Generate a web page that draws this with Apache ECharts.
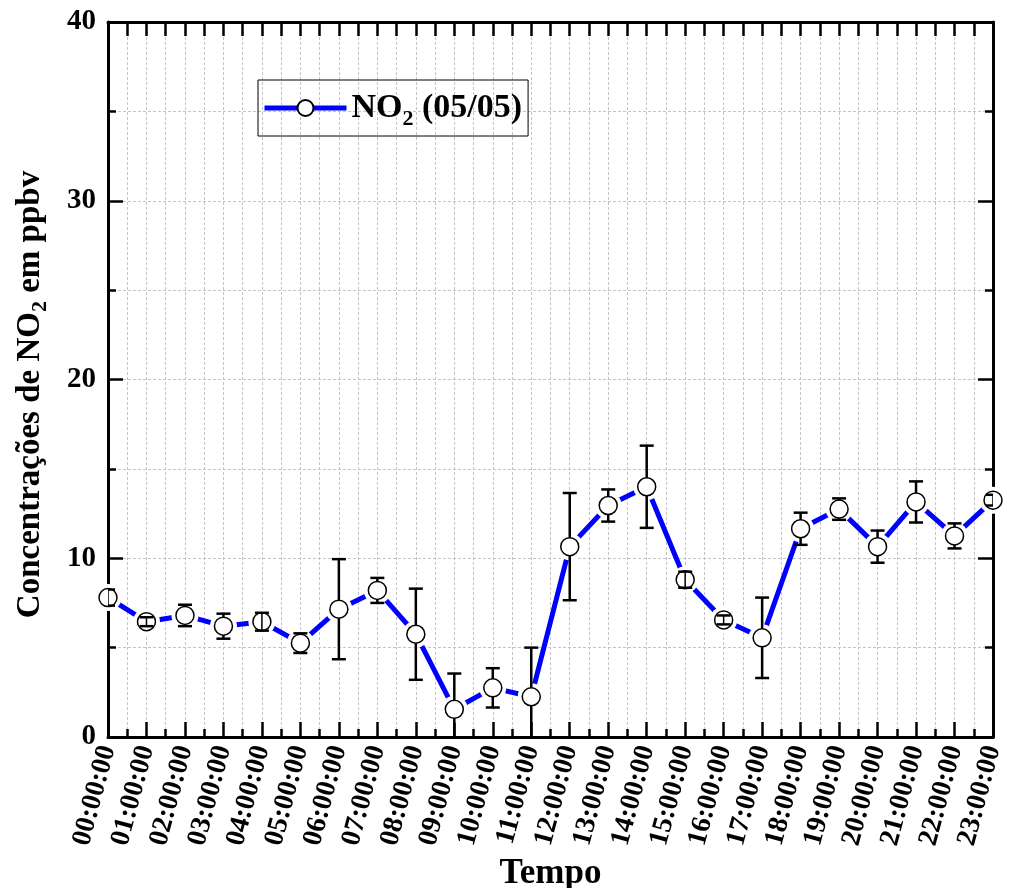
<!DOCTYPE html>
<html>
<head>
<meta charset="utf-8">
<script src="https://cdn.jsdelivr.net/npm/echarts@6/dist/echarts.min.js"></script>
<style>
  html, body { margin: 0; padding: 0; background: #fff; }
  #chart { width: 1009px; height: 888px; }
</style>
</head>
<body>
<div id="chart"></div>
<script>
// Hourly NO2 concentrations (ppbv) for 05/05 with standard deviation
const hourLabels = ['00:00:00','01:00:00','02:00:00','03:00:00','04:00:00','05:00:00',
  '06:00:00','07:00:00','08:00:00','09:00:00','10:00:00','11:00:00',
  '12:00:00','13:00:00','14:00:00','15:00:00','16:00:00','17:00:00',
  '18:00:00','19:00:00','20:00:00','21:00:00','22:00:00','23:00:00'];
const no2 = [7.8, 6.45, 6.8, 6.2, 6.45, 5.25, 7.15, 8.2, 5.75, 1.55, 2.75, 2.25,
  10.65, 12.95, 14.0, 8.8, 6.55, 5.55, 11.65, 12.75, 10.65, 13.15, 11.25, 13.25];
const no2Err = [0.45, 0.25, 0.6, 0.7, 0.5, 0.55, 2.8, 0.7, 2.55, 2.0, 1.1, 2.75,
  3.0, 0.9, 2.3, 0.45, 0.25, 2.25, 0.9, 0.6, 0.9, 1.15, 0.7, 0.3];
const yTicks = [0, 10, 20, 30, 40];

const FONT = "'Liberation Serif', 'Times New Roman', serif";
const MARKER = 18;
const seriesName = 'NO2 (05/05)';

const points = no2.map((v, i) => [i, v]);
const errData = no2.map((v, i) => [i, v, no2Err[i]]);

const grid = { left: 108, right: 16, top: 22, bottom: 151, containLabel: false, outerBoundsMode: 'none' };
const gridLine = { color: '#c4c4c4', width: 1, type: [3, 2] };
const frame = { show: true, onZero: false, lineStyle: { color: '#000', width: 3 } };

const chart = echarts.init(document.getElementById('chart'));
chart.setOption({
  backgroundColor: '#fff',
  animation: false,
  grid: grid,
  legend: {
    data: [seriesName],
    left: 258, top: 80,
    borderColor: '#000', borderWidth: 1,
    padding: [6, 6, 6, 4],
    itemWidth: 82, itemHeight: 20,
    lineStyle: { width: 5 },
    formatter: () => '{b|NO}{s|2}{b| (05/05)}',
    textStyle: {
      color: '#000', fontFamily: FONT, fontWeight: 'bold', fontSize: 34,
      rich: {
        b: { fontFamily: FONT, fontWeight: 'bold', fontSize: 34, color: '#000', lineHeight: 40 },
        s: { fontFamily: FONT, fontWeight: 'bold', fontSize: 22, color: '#000', lineHeight: 40, padding: [22, 0, 0, 0] }
      }
    }
  },
  xAxis: [{
    type: 'value', position: 'bottom', min: 0, max: 23, interval: 1,
    name: 'Tempo', nameLocation: 'middle', nameGap: 113,
    nameTextStyle: { fontFamily: FONT, fontWeight: 'bold', fontSize: 35, color: '#000' },
    axisLine: frame,
    axisTick: { inside: true, length: 15, lineStyle: { color: '#000', width: 2.5 } },
    minorTick: { show: true, splitNumber: 2, length: 8, lineStyle: { color: '#000', width: 2.5 } },
    splitLine: { show: true, lineStyle: gridLine },
    minorSplitLine: { show: true, lineStyle: gridLine },
    axisLabel: {
      rotate: 75, margin: 9, color: '#000', fontFamily: FONT, fontWeight: 'bold', fontSize: 28,
      formatter: v => hourLabels[v] || ''
    }
  }, {
    type: 'value', position: 'top', min: 0, max: 23, interval: 0.5,
    axisLine: frame,
    axisTick: { inside: true, length: 14, lineStyle: { color: '#000', width: 2.5 } },
    splitLine: { show: false },
    axisLabel: { show: false }
  }],
  yAxis: [{
    type: 'value', position: 'left', min: 0, max: 40, interval: 10,
    name: '{t|Concentrações de NO}{s|2}{t| em ppbv}',
    nameLocation: 'middle', nameGap: 58, nameRotate: 90,
    nameTextStyle: {
      fontFamily: FONT, fontWeight: 'bold', fontSize: 33, color: '#000',
      padding: [0, 30, 0, 0],
      rich: {
        t: { fontFamily: FONT, fontWeight: 'bold', fontSize: 33, color: '#000', lineHeight: 40 },
        s: { fontFamily: FONT, fontWeight: 'bold', fontSize: 22, color: '#000', lineHeight: 40, padding: [20, 0, 0, 0] }
      }
    },
    axisLine: frame,
    axisTick: { inside: true, length: 15, lineStyle: { color: '#000', width: 2.5 } },
    minorTick: { show: true, splitNumber: 2, length: 8, lineStyle: { color: '#000', width: 2.5 } },
    splitLine: { show: true, lineStyle: gridLine },
    minorSplitLine: { show: true, lineStyle: gridLine },
    axisLabel: {
      margin: 12, color: '#000', fontFamily: FONT, fontWeight: 'bold', fontSize: 29,
      formatter: v => (yTicks.indexOf(v) >= 0 ? String(v) : '')
    }
  }, {
    type: 'value', position: 'right', min: 0, max: 40, interval: 10,
    axisLine: frame,
    axisTick: { inside: true, length: 15, lineStyle: { color: '#000', width: 2.5 } },
    minorTick: { show: true, splitNumber: 2, length: 8, lineStyle: { color: '#000', width: 2.5 } },
    splitLine: { show: false },
    axisLabel: { show: false }
  }],
  series: [{
    // connecting line (also provides the legend entry)
    name: seriesName, type: 'line', data: points, z: 2,
    symbol: 'circle', symbolSize: MARKER,
    lineStyle: { color: '#0000ff', width: 5 },
    itemStyle: { color: '#fff', borderColor: '#000', borderWidth: 1.5 },
    emphasis: { disabled: true }, silent: true
  }, {
    // white halo so the line stops short of each marker
    type: 'scatter', data: points, z: 3, silent: true,
    symbol: 'circle', symbolSize: MARKER + 9,
    itemStyle: { color: '#fff', borderWidth: 0, opacity: 1 }
  }, {
    type: 'scatter', data: points, z: 4, silent: true,
    symbol: 'circle', symbolSize: MARKER,
    itemStyle: { color: '#fff', borderColor: '#000', borderWidth: 1.5, opacity: 1 }
  }, {
    // error bars: stems stop at the marker edge, caps always drawn
    type: 'custom', data: errData, z: 5, silent: true, clip: true,
    encode: { x: 0, y: 1 },
    renderItem: (params, api) => {
      const x = api.value(0), v = api.value(1), e = api.value(2);
      const c = api.coord([x, v]);
      const hi = api.coord([x, v + e]);
      const lo = api.coord([x, v - e]);
      const r = MARKER / 2;
      const cap = 7;
      const st = { stroke: '#000', lineWidth: 2.5 };
      const kids = [];
      if (c[1] - hi[1] > r) {
        kids.push({ type: 'line', shape: { x1: c[0], y1: hi[1], x2: c[0], y2: c[1] - r }, style: st });
        kids.push({ type: 'line', shape: { x1: c[0], y1: c[1] + r, x2: c[0], y2: lo[1] }, style: st });
      } else {
        kids.push({ type: 'line', shape: { x1: c[0], y1: hi[1], x2: c[0], y2: lo[1] }, style: { stroke: '#000', lineWidth: 1.5 } });
      }
      kids.push({ type: 'line', shape: { x1: c[0] - cap, y1: hi[1], x2: c[0] + cap, y2: hi[1] }, style: st });
      kids.push({ type: 'line', shape: { x1: c[0] - cap, y1: lo[1], x2: c[0] + cap, y2: lo[1] }, style: st });
      return { type: 'group', children: kids };
    }
  }]
});
</script>
</body>
</html>
